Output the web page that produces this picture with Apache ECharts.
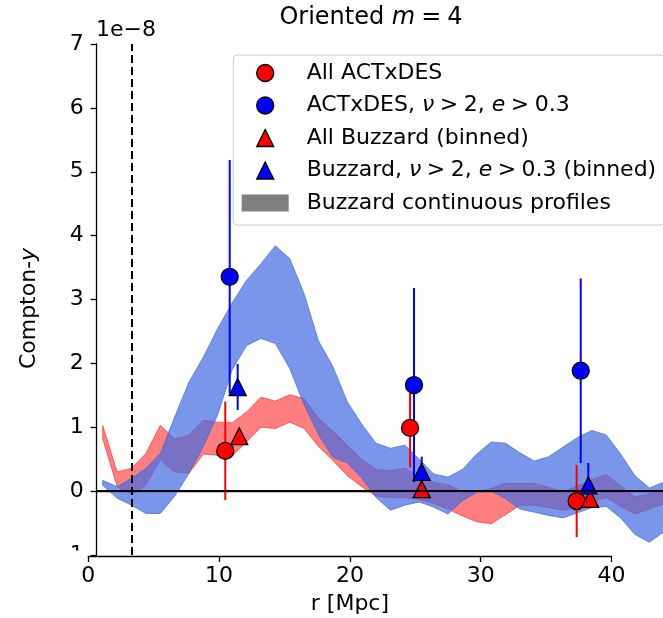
<!DOCTYPE html>
<html>
<head>
<meta charset="utf-8">
<script src="https://cdn.jsdelivr.net/npm/echarts@6/dist/echarts.min.js"></script>
<style>
  html, body { margin: 0; padding: 0; background: #fff; }
  #chart { width: 663px; height: 618px; }
</style>
</head>
<body>
<div id="chart"></div>
<script>
// radial bins of the continuous Buzzard profiles [Mpc]
var profileR = [1.1, 2.2, 3.3, 4.4, 5.5, 6.6, 7.7, 8.8, 9.9, 11.0, 12.1, 13.2, 14.3, 15.4, 16.5, 17.6, 18.7, 19.8, 20.9, 22.0,
  23.1, 24.2, 25.3, 26.4, 27.5, 28.6, 29.7, 30.8, 31.9, 33.0, 34.1, 35.2, 36.3, 37.4, 38.5, 39.6, 40.7, 41.8, 42.9, 44.0];
// All Buzzard band (units of 1e-8)
var allBandHi = [1.03, 0.30, 0.36, 0.59, 1.03, 0.82, 0.88, 1.11, 1.08, 1.07, 1.24, 1.47, 1.41, 1.51, 1.45, 1.14, 0.94, 0.72, 0.50, 0.34,
  0.32, 0.36, 0.23, 0.14, 0.10, -0.01, -0.01, 0.04, 0.12, 0.12, 0.12, 0.06, -0.01, 0.08, 0.18, 0.26, 0.08, -0.09, -0.04, 0.02];
var allBandLo = [0.82, 0.07, -0.05, 0.09, 0.49, 0.30, 0.28, 0.58, 0.56, 0.55, 0.77, 1.00, 0.98, 1.08, 0.98, 0.70, 0.48, 0.24, 0.07, -0.08,
  -0.10, -0.10, -0.13, -0.19, -0.28, -0.39, -0.48, -0.51, -0.37, -0.22, -0.22, -0.26, -0.30, -0.26, -0.17, -0.10, -0.24, -0.36, -0.28, -0.20];
// Buzzard nu>2, e>0.3 band
var selBandHi = [0.17, 0.07, 0.20, 0.36, 0.59, 1.16, 1.71, 2.10, 2.55, 2.95, 3.30, 3.56, 3.84, 3.64, 3.09, 2.35, 1.95, 1.40, 1.05, 0.75,
  0.67, 0.72, 0.50, 0.27, 0.22, 0.34, 0.58, 0.77, 0.75, 0.60, 0.47, 0.54, 0.69, 0.84, 0.95, 0.88, 0.58, 0.24, 0.05, 0.14];
var selBandLo = [0.09, -0.11, -0.22, -0.35, -0.35, -0.08, 0.28, 0.70, 1.20, 1.90, 2.28, 2.39, 2.31, 1.92, 1.35, 0.88, 0.53, 0.44, 0.20, -0.10,
  -0.30, -0.22, -0.17, -0.25, -0.36, -0.15, -0.02, 0.00, -0.12, -0.28, -0.33, -0.38, -0.42, -0.34, -0.26, -0.24, -0.42, -0.68, -0.80, -0.64];

// binned points: x, y, error
var actAllX = [10.47, 24.6, 37.34];
var actAllY = [0.63, 0.99, -0.155];
var actAllErr = [0.77, 0.62, 0.565];
var actSelX = [10.81, 24.9, 37.65];
var actSelY = [3.355, 1.66, 1.885];
var actSelErr = [1.83, 1.52, 1.445];
var buzAllX = [11.54, 25.49, 38.36];
var buzAllY = [0.86, 0.03, -0.12];
var buzAllErr = [0.1, 0.1, 0.1];
var buzSelX = [11.42, 25.49, 38.23];
var buzSelY = [1.63, 0.30, 0.09];
var buzSelErr = [0.36, 0.24, 0.35];

var cutoffR = 3.32;
var yTicks = { min: -1, max: 7, step: 1 };
var rTicks = { min: 0, max: 40, step: 10 };

var FONT = 'DejaVu Sans';
var TRI = 'path://M10,0 L20,20 L0,20 Z';
var SP = '\u2005'; // narrower space, closer to mathtext spacing

var names = {
  actAll: 'All ACTxDES',
  actSel: 'ACTxDES, ν > 2, e > 0.3',
  buzAll: 'All Buzzard (binned)',
  buzSel: 'Buzzard, ν > 2, e > 0.3 (binned)',
  cont: 'Buzzard continuous profiles'
};
var richNames = {};
richNames[names.actAll] = '{s|}{n|All ACTxDES}';
richNames[names.actSel] = '{s|}{n|ACTxDES, }{i|ν}{n|' + SP + '>' + SP + '2, }{i|e}{n|' + SP + '>' + SP + '0.3}';
richNames[names.buzAll] = '{s|}{n|All Buzzard (binned)}';
richNames[names.buzSel] = '{s|}{n|Buzzard, }{i|ν}{n|' + SP + '>' + SP + '2, }{i|e}{n|' + SP + '>' + SP + '0.3 (binned)}';
richNames[names.cont] = '{s|}{n|Buzzard continuous profiles}';

function bandSeries(name, lo, hi, color) {
  return {
    name: name,
    type: 'custom',
    xAxisIndex: 0,
    yAxisIndex: 0,
    silent: true,
    data: profileR.map(function (r, i) { return [r, lo[i], hi[i]]; }),
    renderItem: function (params, api) {
      if (params.dataIndex !== 0) return null;
      var pts = [];
      for (var i = 0; i < profileR.length; i++) pts.push(api.coord([profileR[i], hi[i]]));
      for (var j = profileR.length - 1; j >= 0; j--) pts.push(api.coord([profileR[j], lo[j]]));
      return {
        type: 'polygon',
        shape: { points: pts },
        style: { fill: color, stroke: color, lineWidth: 1 }
      };
    }
  };
}

function errSeries(xs, ys, es, color) {
  return {
    type: 'custom',
    xAxisIndex: 0,
    yAxisIndex: 0,
    silent: true,
    data: xs.map(function (x, i) { return [x, ys[i], es[i]]; }),
    renderItem: function (params, api) {
      var x = api.value(0), y = api.value(1), e = api.value(2);
      var p1 = api.coord([x, y + e]);
      var p2 = api.coord([x, y - e]);
      return {
        type: 'line',
        shape: { x1: p1[0], y1: p1[1], x2: p2[0], y2: p2[1] },
        style: { stroke: color, lineWidth: 2 }
      };
    }
  };
}

function pointSeries(name, xs, ys, color, symbol) {
  return {
    name: name,
    type: 'scatter',
    xAxisIndex: 0,
    yAxisIndex: 0,
    symbol: symbol,
    symbolSize: 17,
    itemStyle: { color: color, borderColor: '#000', borderWidth: 1.3, opacity: 1 },
    data: xs.map(function (x, i) { return [x, ys[i]]; })
  };
}

var myChart = echarts.init(document.getElementById('chart'), null, { renderer: 'canvas' });

var axisLineStyle = { color: '#000', width: 1.3 };

var option = {
  animation: false,
  backgroundColor: '#fff',
  textStyle: { fontFamily: FONT },
  grid: [
    { left: 96.7, top: 44, right: 0, height: 511, outerBoundsMode: 'none' },
    { left: 88.3, top: 555, width: 523.2, height: 1, outerBoundsMode: 'none' }
  ],
  xAxis: [{
    gridIndex: 0,
    type: 'value',
    position: 'top',
    min: 0.64,
    max: 43.94,
    axisLine: { show: true, lineStyle: axisLineStyle },
    axisTick: { show: false },
    axisLabel: { show: false },
    splitLine: { show: false }
  }, {
    gridIndex: 1,
    type: 'value',
    position: 'bottom',
    min: rTicks.min,
    max: rTicks.max,
    interval: rTicks.step,
    name: 'r [Mpc]',
    nameLocation: 'middle',
    nameGap: 37,
    nameTextStyle: { fontSize: 22, color: '#000', fontFamily: FONT },
    axisLine: { show: true, lineStyle: axisLineStyle },
    axisTick: { show: true, length: 6, lineStyle: axisLineStyle },
    axisLabel: { fontSize: 22, color: '#000', margin: 9, fontFamily: FONT },
    splitLine: { show: false }
  }],
  yAxis: [{
    gridIndex: 0,
    type: 'value',
    min: yTicks.min,
    max: yTicks.max,
    interval: yTicks.step,
    name: '{n|Compton-}{i|y}{s|}',
    nameLocation: 'middle',
    nameGap: 48,
    nameTextStyle: {
      rich: {
        n: { fontSize: 22, color: '#000', fontFamily: FONT },
        i: { fontSize: 22, color: '#000', fontFamily: FONT, fontStyle: 'italic' },
        s: { width: 18 }
      }
    },
    axisLine: { show: true, lineStyle: axisLineStyle },
    axisTick: { show: true, length: 6, lineStyle: axisLineStyle },
    axisLabel: {
      fontSize: 22, color: '#000', margin: 13, fontFamily: FONT,
      formatter: function (v) { return v < 0 ? '\u2212' + Math.abs(v) : String(v); }
    },
    splitLine: { show: false }
  }, {
    gridIndex: 1,
    type: 'value',
    show: false,
    min: 0,
    max: 1
  }],
  legend: {
    orient: 'vertical',
    left: 233.3,
    top: 55,
    padding: [7, 9, 11, 8.4],
    itemGap: 10.5,
    itemWidth: 47,
    itemHeight: 17,
    symbolKeepAspect: true,
    backgroundColor: 'rgba(255,255,255,0.8)',
    borderColor: '#cccccc',
    borderWidth: 1,
    borderRadius: 4,
    selectedMode: false,
    formatter: function (name) { return richNames[name] || name; },
    textStyle: {
      fontSize: 22, color: '#000', fontFamily: FONT, lineHeight: 22,
      rich: {
        s: { width: 13, lineHeight: 22 },
        n: { fontSize: 22, color: '#000', fontFamily: FONT, lineHeight: 22 },
        i: { fontSize: 22, color: '#000', fontFamily: FONT, fontStyle: 'italic', lineHeight: 22 }
      }
    },
    data: [
      { name: names.actAll, icon: 'circle', itemStyle: { color: '#ff0000', borderColor: '#000', borderWidth: 1.3 } },
      { name: names.actSel, icon: 'circle', itemStyle: { color: '#0000ff', borderColor: '#000', borderWidth: 1.3 } },
      { name: names.buzAll, icon: TRI, itemStyle: { color: '#ff0000', borderColor: '#000', borderWidth: 1.3 } },
      { name: names.buzSel, icon: TRI, itemStyle: { color: '#0000ff', borderColor: '#000', borderWidth: 1.3 } },
      { name: names.cont, icon: 'rect', itemStyle: { color: '#808080', borderWidth: 0 } }
    ]
  },
  graphic: [{
    type: 'text',
    x: 371,
    y: 18,
    z: 100,
    style: {
      text: '{n|Oriented }{i|m}{n|' + SP + '=' + SP + '4}',
      align: 'center',
      verticalAlign: 'middle',
      rich: {
        n: { fontSize: 24, fill: '#000', fontFamily: FONT },
        i: { fontSize: 24, fill: '#000', fontFamily: FONT, fontStyle: 'italic' }
      }
    }
  }, {
    type: 'text',
    x: 96,
    y: 30,
    z: 100,
    style: { text: '1e\u22128', fontSize: 22, fontFamily: FONT, fill: '#000', verticalAlign: 'middle' }
  }, {
    // the lower part of the -1 tick label is hidden under the r axis panel
    type: 'rect',
    z: 100,
    zlevel: 1,
    shape: { x: 40, y: 550.5, width: 45, height: 16 },
    style: { fill: '#fff' }
  }],
  series: [
    bandSeries('allBand', allBandLo, allBandHi, 'rgba(255,0,0,0.5)'),
    bandSeries('selBand', selBandLo, selBandHi, 'rgba(65,105,225,0.7)'),
    {
      name: names.cont,
      type: 'custom',
      xAxisIndex: 0,
      yAxisIndex: 0,
      itemStyle: { color: '#808080' },
      data: [],
      renderItem: function () { return null; }
    },
    {
      type: 'line',
      xAxisIndex: 0,
      yAxisIndex: 0,
      data: [],
      silent: true,
      markLine: {
        silent: true,
        symbol: ['none', 'none'],
        label: { show: false },
        animation: false,
        data: [
          { yAxis: 0, lineStyle: { color: '#000', width: 2, type: 'solid' } },
          { xAxis: cutoffR, lineStyle: { color: '#000', width: 2, type: [8, 4] } }
        ]
      }
    },
    errSeries(actAllX, actAllY, actAllErr, '#ff0000'),
    pointSeries(names.actAll, actAllX, actAllY, '#ff0000', 'circle'),
    errSeries(actSelX, actSelY, actSelErr, '#0000ff'),
    pointSeries(names.actSel, actSelX, actSelY, '#0000ff', 'circle'),
    errSeries(buzAllX, buzAllY, buzAllErr, '#ff0000'),
    pointSeries(names.buzAll, buzAllX, buzAllY, '#ff0000', TRI),
    errSeries(buzSelX, buzSelY, buzSelErr, '#0000ff'),
    pointSeries(names.buzSel, buzSelX, buzSelY, '#0000ff', TRI)
  ]
};

myChart.setOption(option);
</script>
</body>
</html>
